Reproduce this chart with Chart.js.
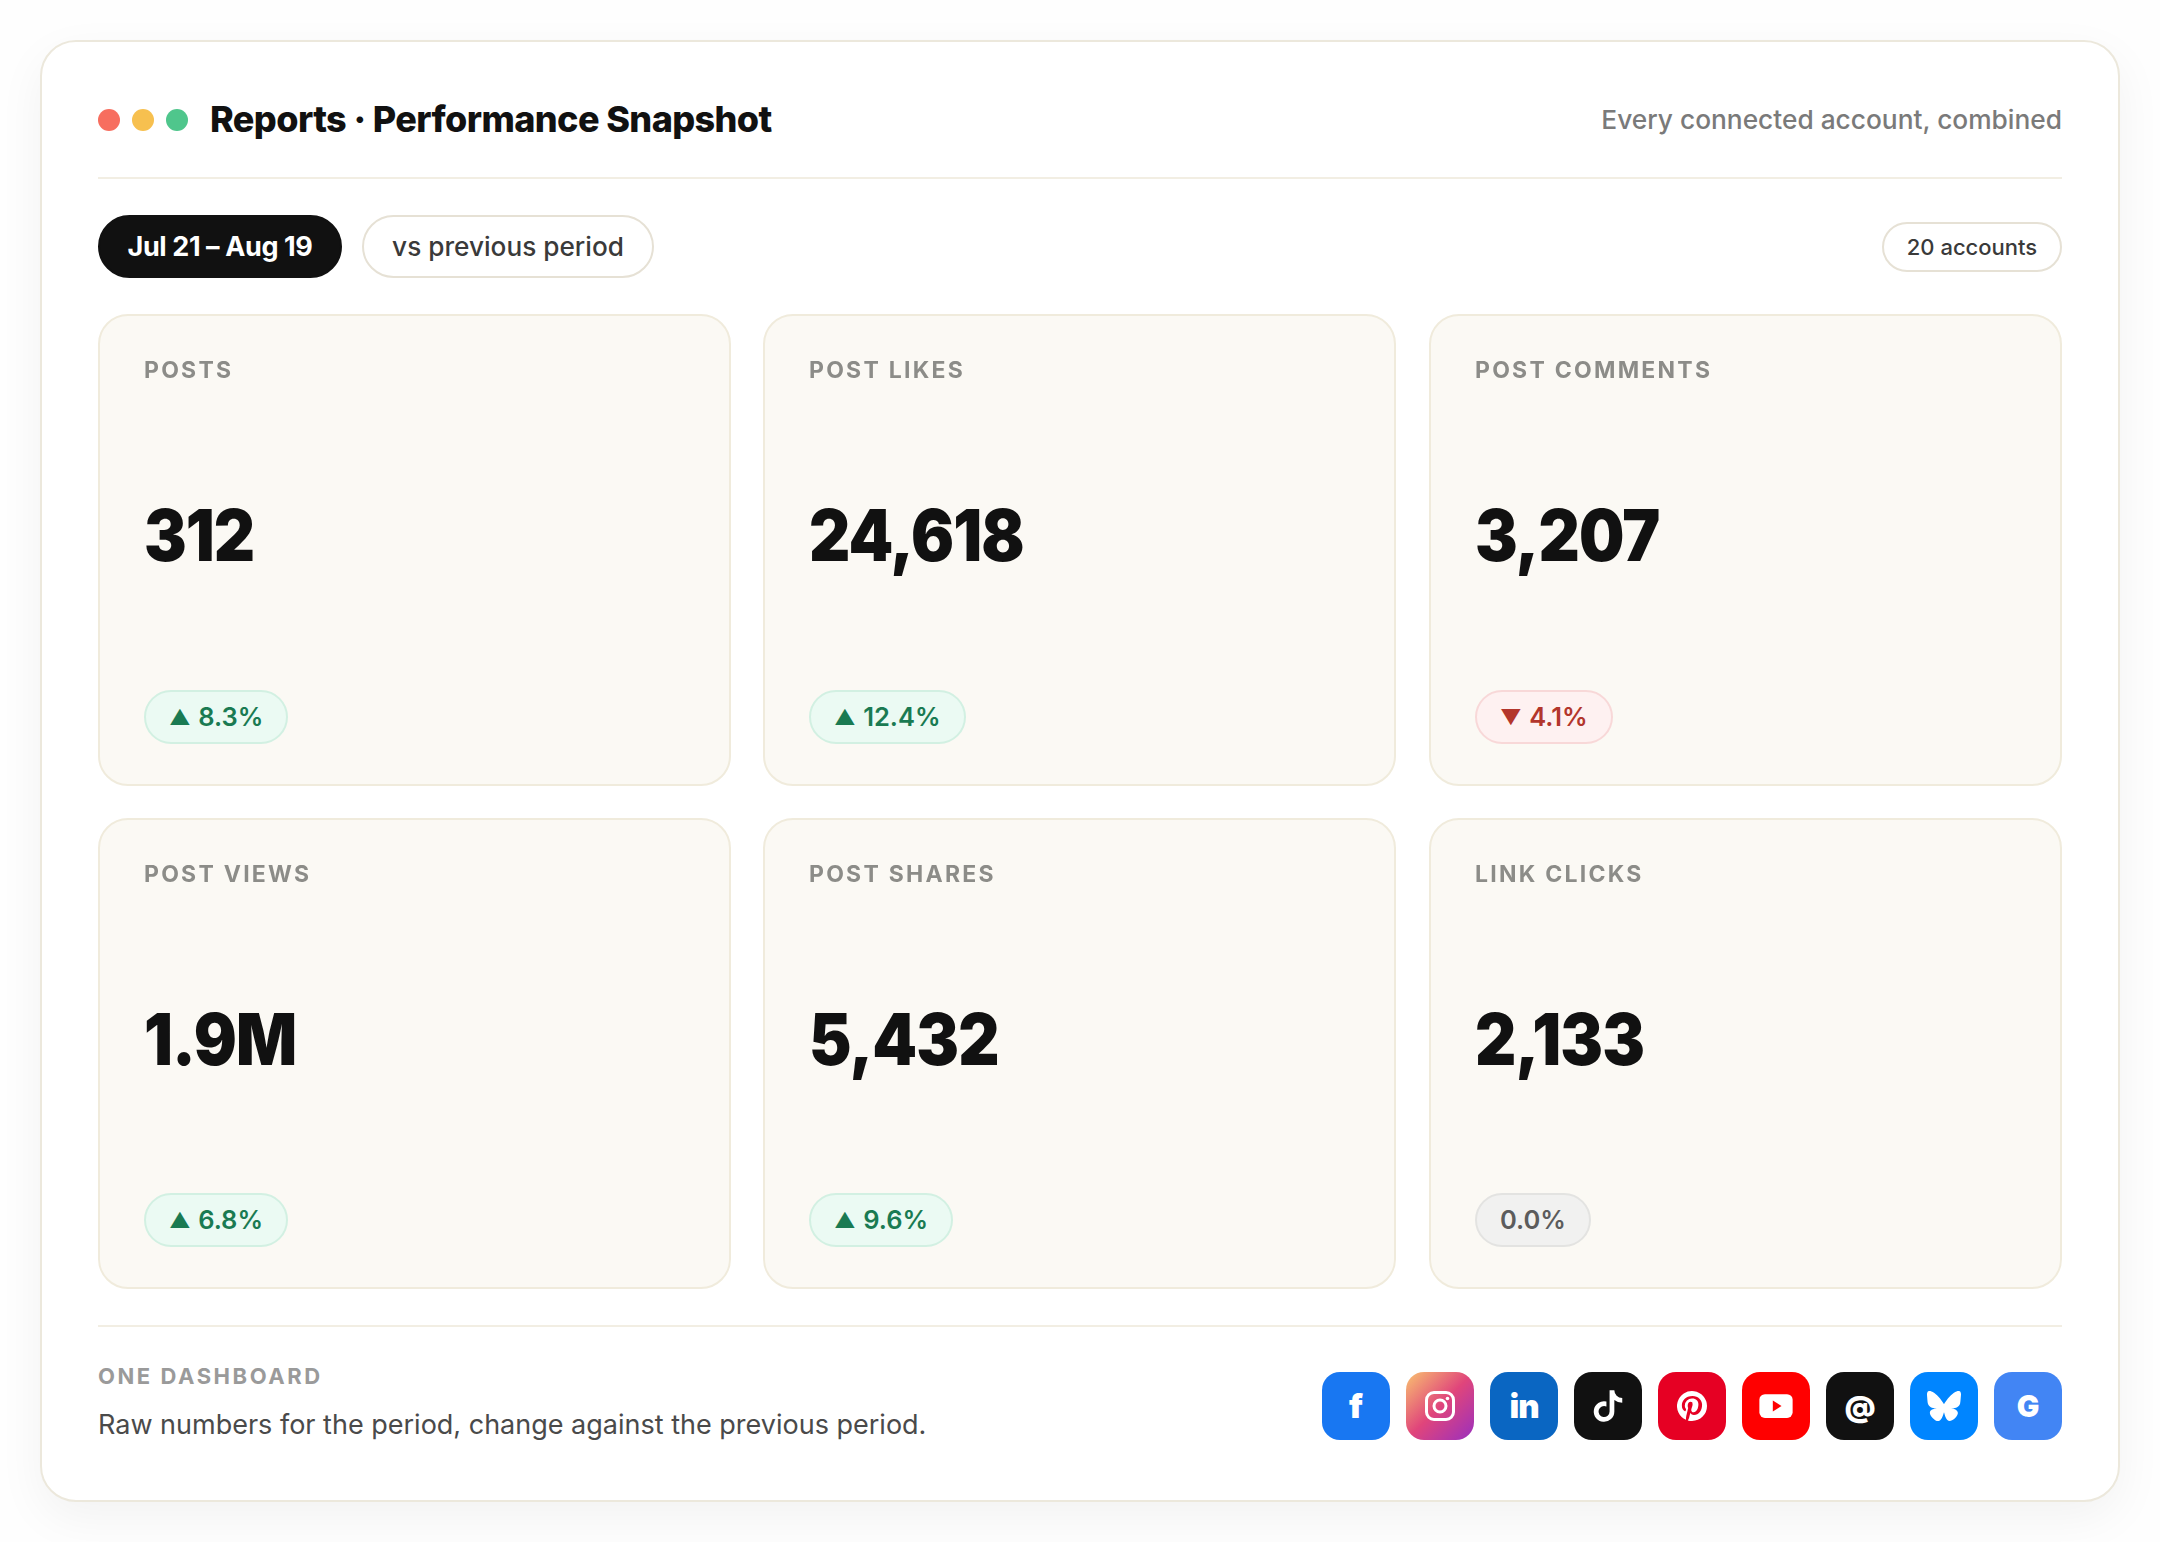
<!DOCTYPE html>
<html>
<head>
<meta charset="utf-8">
<title>Performance Snapshot</title>
<script src="https://cdn.jsdelivr.net/npm/chart.js@4"></script>
<style>
  * { box-sizing: border-box; }
  html, body { margin: 0; width: 2160px; height: 1542px; background: #fefefe; font-family: Inter, sans-serif; overflow: hidden; }
  .frame { position: absolute; left: 40px; top: 40px; width: 2080px; height: 1462px; background: #fff; border: 2px solid #ece8dc; border-radius: 36px; box-shadow: 0 16px 48px rgba(20,20,10,.05); }
  .abs { position: absolute; white-space: nowrap; }
  .dot { position: absolute; top: 109px; width: 22px; height: 22px; border-radius: 50%; }
  .rule { position: absolute; left: 98px; width: 1964px; height: 2px; background: #f2eee3; }
  .title { left: 210px; top: 94px; font-size: 36px; line-height: 50px; font-weight: 800; color: #111; letter-spacing: -.6px; }
  .sub { right: 98px; top: 102px; font-size: 26.3px; line-height: 36px; font-weight: 550; color: #7a7a7a; }
  .pill { position: absolute; border-radius: 40px; border: 2px solid #e6e1d5; background: #fff; text-align: center; white-space: nowrap; font-weight: 550; color: #3a3a3a; }
  .pill.dark { background: #111; border-color: #111; color: #fff; font-weight: 650; }
  .tile { position: absolute; width: 633px; background: #fbf9f4; border: 2px solid #f0ebdc; border-radius: 30px; }
  .tile canvas { position: absolute; left: 0; top: 0; }
  .badge { position: absolute; left: 44px; bottom: 40px; height: 54px; line-height: 50px; padding: 0 23px; border-radius: 28px; border: 2px solid; font-size: 25.5px; font-weight: 600; white-space: nowrap; }
  .badge .tri { font-size: 21px; margin-right: 1px; position: relative; top: -1px; }
  .badge.up { background: #ebfaf3; border-color: #d2f0e2; color: #1a7a52; }
  .badge.down { background: #fef1f1; border-color: #f8d8d8; color: #b3362c; }
  .badge.flat { background: #f1f1f0; border-color: #e3e3e1; color: #5c5c5c; }
  .foot-a { left: 98px; top: 1362px; font-size: 22px; line-height: 28px; font-weight: 700; letter-spacing: 2.55px; color: #9a9a9a; }
  .foot-b { left: 98px; top: 1407px; font-size: 27px; line-height: 36px; font-weight: 400; color: #4a4a4a; }
  .icon { position: absolute; top: 1372px; width: 68px; height: 68px; border-radius: 18px; display: flex; align-items: center; justify-content: center; color: #fff; font-weight: 800; }
</style>
</head>
<body>
<div class="frame"></div>
<div class="dot" style="left:98px;background:#f76e5f"></div>
<div class="dot" style="left:132px;background:#f7c04f"></div>
<div class="dot" style="left:166px;background:#4fc68c"></div>
<div class="abs title">Reports · Performance Snapshot</div>
<div class="abs sub">Every connected account, combined</div>
<div class="rule" style="top:177px"></div>
<div class="pill dark" style="left:98px;top:215px;width:244px;height:63px;line-height:59px;font-size:27px;letter-spacing:-.4px">Jul 21 – Aug 19</div>
<div class="pill" style="left:362px;top:215px;width:292px;height:63px;line-height:59px;font-size:26.2px">vs previous period</div>
<div class="pill" style="left:1882px;top:222px;width:180px;height:50px;line-height:46px;font-size:22px">20 accounts</div>
<div id="tiles"></div>
<div class="rule" style="top:1325px"></div>
<div class="abs foot-a">ONE DASHBOARD</div>
<div class="abs foot-b">Raw numbers for the period, change against the previous period.</div>
<div id="icons"></div>

<script>
const metricLabels = ['POSTS', 'POST LIKES', 'POST COMMENTS', 'POST VIEWS', 'POST SHARES', 'LINK CLICKS'];
const metricValues = [312, 24618, 3207, 1900000, 5432, 2133];
const metricDeltas = [8.3, 12.4, -4.1, 6.8, 9.6, 0.0];

const tileLeft = [98, 763, 1429];
const tileTop = [314, 818];
const tileHeight = [472, 471];

const formatValue = v => v >= 1e6 ? (v / 1e6).toFixed(1) + 'M' : v.toLocaleString('en-US');

// draws the label and the big number of a tile from the chart's own data
const kpiText = {
    id: 'kpiText',
    afterDraw(chart) {
        const ctx = chart.ctx;
        ctx.save();
        ctx.textAlign = 'left';
        ctx.textBaseline = 'alphabetic';
        ctx.fillStyle = '#8c8c88';
        ctx.font = '700 23px Inter, sans-serif';
        ctx.letterSpacing = '2.25px';
        ctx.fillText(chart.data.labels[0], 44, 62);
        // the reference face is narrower than Inter, so squeeze it a little
        ctx.fillStyle = '#111';
        ctx.font = '900 71px Inter, sans-serif';
        ctx.letterSpacing = '-1px';
        ctx.translate(44, 245);
        ctx.scale(0.9, 1);
        ctx.fillText(formatValue(chart.data.datasets[0].data[0]), 0, 0);
        ctx.restore();
    }
};

const tiles = document.getElementById('tiles');
metricLabels.forEach((label, i) => {
    const row = Math.floor(i / 3);
    const tile = document.createElement('div');
    tile.className = 'tile';
    tile.style.left = tileLeft[i % 3] + 'px';
    tile.style.top = tileTop[row] + 'px';
    tile.style.height = tileHeight[row] + 'px';

    const holder = document.createElement('canvas');
    holder.width = 629;
    holder.height = 467;
    holder.style.width = '629px';
    holder.style.height = '467px';
    tile.appendChild(holder);

    const d = metricDeltas[i];
    const badge = document.createElement('div');
    badge.className = 'badge ' + (d > 0 ? 'up' : d < 0 ? 'down' : 'flat');
    const arrow = d > 0 ? '▲' : d < 0 ? '▼' : '';
    badge.innerHTML = (arrow ? '<span class="tri">' + arrow + '</span> ' : '') + Math.abs(d).toFixed(1) + '%';
    tile.appendChild(badge);
    tiles.appendChild(tile);

    new Chart(holder, {
        type: 'bar',
        data: {
            labels: [label],
            datasets: [{ data: [metricValues[i]], backgroundColor: 'transparent' }]
        },
        options: {
            responsive: false, animation: false, devicePixelRatio: 1, events: [],
            plugins: { legend: { display: false }, tooltip: { enabled: false } },
            scales: { x: { display: false }, y: { display: false, min: 0 } }
        },
        plugins: [kpiText]
    });
});

const iconPaths = {
    tiktok: 'M16 8.245V15.5a6.5 6.5 0 1 1-5-6.326v3.163a3.5 3.5 0 1 0 2 3.163V2h3a5 5 0 0 0 5 5v3a7.966 7.966 0 0 1-5-1.755z',
    pinterest: 'M13.37 2.094A10.003 10.003 0 0 0 8.002 21.17a7.757 7.757 0 0 1 .163-2.293c.185-.839 1.296-5.463 1.296-5.463a3.739 3.739 0 0 1-.324-1.577c0-1.485.857-2.593 1.923-2.593a1.334 1.334 0 0 1 1.342 1.508c0 .9-.578 2.262-.88 3.54a1.544 1.544 0 0 0 1.575 1.923c1.898 0 3.17-2.431 3.17-5.301 0-2.2-1.457-3.848-4.143-3.848a4.746 4.746 0 0 0-4.93 4.794 2.96 2.96 0 0 0 .648 1.97.48.48 0 0 1 .162.554c-.046.184-.162.623-.208.784a.354.354 0 0 1-.51.254c-1.384-.554-2.036-2.077-2.036-3.816 0-2.847 2.384-6.255 7.154-6.255 3.796 0 6.32 2.777 6.32 5.747 0 3.909-2.177 6.848-5.394 6.848a2.861 2.861 0 0 1-2.454-1.246s-.578 2.316-.692 2.754a8.026 8.026 0 0 1-1.019 2.131c.923.28 1.882.42 2.846.416a9.988 9.988 0 0 0 9.996-10.003 10.002 10.002 0 0 0-8.635-9.903z',
    bluesky: 'M12 10.8c-1.087-2.114-4.046-6.053-6.798-7.995C2.566.944 1.561 1.266.902 1.565.139 1.908 0 3.08 0 3.768c0 .69.378 5.65.624 6.479.815 2.736 3.713 3.66 6.383 3.364.136-.02.275-.039.415-.056-.138.022-.276.04-.415.056-3.912.58-7.387 2.005-2.83 7.078 5.013 5.19 6.87-1.113 7.823-4.308.953 3.195 2.05 9.271 7.733 4.308 4.267-4.308 1.172-6.498-2.74-7.078a8.741 8.741 0 0 1-.415-.056c.14.017.279.036.415.056 2.67.297 5.568-.628 6.383-3.364.246-.828.624-5.79.624-6.478 0-.69-.139-1.861-.902-2.206-.659-.298-1.664-.62-4.3 1.24C16.046 4.748 13.087 8.687 12 10.8z'
};
const svg = (size, inner) => `<svg width="${size}" height="${size}" viewBox="0 0 24 24">${inner}</svg>`;
const iconList = [
    { bg: '#1877f2', html: '<span style="font-size:33px;font-family:Inter;font-weight:900">f</span>' },
    { bg: 'linear-gradient(135deg,#f9c270 0%,#e0457b 50%,#9a2fbf 100%)', html: svg(36, '<rect x="3" y="3" width="18" height="18" rx="5" fill="none" stroke="#fff" stroke-width="2"/><circle cx="12" cy="12" r="4" fill="none" stroke="#fff" stroke-width="2"/><circle cx="17" cy="7" r="1.2" fill="#fff"/>') },
    { bg: '#0a66c2', html: '<span style="font-size:33px;letter-spacing:-1px;font-family:Inter;font-weight:900">in</span>' },
    { bg: '#111', html: svg(38, `<path fill="#fff" d="${iconPaths.tiktok}"/>`) },
    { bg: '#e60023', html: svg(36, `<path fill="#fff" d="${iconPaths.pinterest}"/>`) },
    { bg: '#ff0000', html: svg(38, '<rect x="1.5" y="4.5" width="21" height="15" rx="3.5" fill="#fff"/><path d="M10 8.5l5.5 3.5-5.5 3.5z" fill="#f00"/>') },
    { bg: '#111', html: '<span style="font-size:29px;font-family:Inter;font-weight:900">@</span>' },
    { bg: '#0085ff', html: svg(34, `<path fill="#fff" d="${iconPaths.bluesky}"/>`) },
    { bg: '#4285f4', html: '<span style="font-size:30px;font-family:Inter;font-weight:900">G</span>' }
];
const icons = document.getElementById('icons');
iconList.forEach((ic, i) => {
    const el = document.createElement('div');
    el.className = 'icon';
    el.style.left = (1322 + i * 84) + 'px';
    el.style.background = ic.bg;
    el.innerHTML = ic.html;
    icons.appendChild(el);
});
</script>
</body>
</html>
